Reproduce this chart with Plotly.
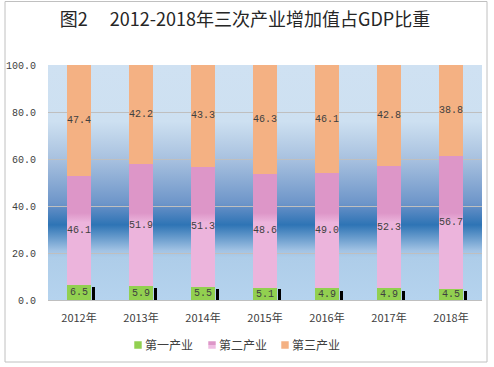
import base64
import plotly.graph_objects as go

# ---------------- data ----------------
years = ['2012年', '2013年', '2014年', '2015年', '2016年', '2017年', '2018年']
primary = [6.5, 5.9, 5.5, 5.1, 4.9, 4.9, 4.5]        # 第一产业
secondary = [46.1, 51.9, 51.3, 48.6, 49.0, 52.3, 56.7]  # 第二产业
tertiary = [47.4, 42.2, 43.3, 46.3, 46.1, 42.8, 38.8]   # 第三产业
stub = [5.5, 5.2, 4.7, 4.5, 3.8, 3.8, 3.8]             # small dark marks beside bars
y_ticks = [0, 20, 40, 60, 80, 100]
series_names = ['第一产业', '第二产业', '第三产业']

GREEN = '#92d050'
PINK = '#e2a3d2'
ORANGE = '#f4b183'
LABEL_FONT = dict(family='Liberation Mono, DejaVu Sans Mono, monospace', size=10, color='#404040')
LEGEND_FONT = dict(family='Noto Sans CJK SC', size=12, color='#404040')

# background gradient of the plot area (SVG data URI)
svg = '''<svg xmlns="http://www.w3.org/2000/svg" width="100" height="100" viewBox="0 0 100 100" preserveAspectRatio="none">
<defs><linearGradient id="g" x1="0" y1="0" x2="0" y2="1">
<stop offset="0" stop-color="#cfe1f2"/>
<stop offset="0.24" stop-color="#cde0f1"/>
<stop offset="0.40" stop-color="#a8c1df"/>
<stop offset="0.59" stop-color="#6d95c9"/>
<stop offset="0.61" stop-color="#5d8bc4"/>
<stop offset="0.68" stop-color="#2e74b5"/>
<stop offset="0.79" stop-color="#a2c3e4"/>
<stop offset="0.82" stop-color="#aecde9"/>
<stop offset="1" stop-color="#b5d3ee"/>
</linearGradient></defs>
<rect x="0" y="0" width="100" height="100" fill="url(#g)"/></svg>'''
svg_uri = 'data:image/svg+xml;base64,' + base64.b64encode(svg.encode()).decode()

fig = go.Figure()
legend_ids = ['legend', 'legend2', 'legend3']
for name, vals, col, lg in zip(series_names, [primary, secondary, tertiary], [GREEN, PINK, ORANGE], legend_ids):
    fig.add_trace(go.Bar(
        x=years, y=vals, name=name, width=0.4, legend=lg,
        marker=dict(color=col, line=dict(width=0)),
        text=[f'{v:.1f}' for v in vals], textposition='inside',
        insidetextanchor='middle', textangle=0, constraintext='none',
        textfont=LABEL_FONT, hoverinfo='skip',
    ))

fig.add_trace(go.Bar(
    x=years, y=stub, xaxis='x2', yaxis='y', width=0.05, offset=0.215,
    marker=dict(color='#000000', line=dict(width=0)), showlegend=False, hoverinfo='skip',
))

legend_lefts_px = [105, 179, 252]
legend_cfg = {}
for lg, px in zip(legend_ids, legend_lefts_px):
    legend_cfg[lg] = dict(orientation='h', x=(px - 48) / 434, xanchor='left', y=-0.1915, yanchor='middle',
                          font=LEGEND_FONT, itemwidth=30, bgcolor='rgba(0,0,0,0)')

fig.update_layout(
    width=494, height=367,
    margin=dict(l=48, r=12, t=65, b=67, autoexpand=False),
    paper_bgcolor='white', plot_bgcolor='rgba(0,0,0,0)',
    barmode='stack',
    title=dict(text='图2\u3000 2012-2018年三次产业增加值占GDP比重',
               x=245 / 494, xanchor='center', yref='container', y=1 - 20 / 367, yanchor='middle',
               font=dict(family='Noto Sans CJK SC', size=18, color='#262626')),
    xaxis=dict(type='category', range=[-0.5, 6.5], showgrid=False, showline=True,
               linecolor='#bfbfbf', linewidth=1, ticks='', ticklabelstandoff=8,
               tickfont=dict(family='Noto Sans CJK SC', size=11, color='#404040'), zeroline=False),
    xaxis2=dict(type='category', range=[-0.5, 6.5], overlaying='x', visible=False,
                categoryarray=years, categoryorder='array'),
    yaxis=dict(range=[0, 100], tickvals=y_ticks, tickformat='.1f', showgrid=True,
               gridcolor='#bfbfbf', gridwidth=1, zeroline=False, showline=False, ticks='',
               ticklabelstandoff=11,
               tickfont=dict(family='Liberation Mono, DejaVu Sans Mono, monospace', size=10, color='#404040')),
    images=[dict(source=svg_uri, xref='paper', yref='paper', x=0, y=1, sizex=1, sizey=1,
                 sizing='stretch', xanchor='left', yanchor='top', layer='below')],
    shapes=[dict(type='rect', xref='paper', yref='paper',
                 x0=(5 - 48) / 434, x1=(487 - 48) / 434,
                 y0=(300 - 362) / 235, y1=(300 - 1.5) / 235,
                 line=dict(color='#c0c0c0', width=1), fillcolor='rgba(0,0,0,0)', layer='above')],
    **legend_cfg,
)

post = r'''
document.body.style.margin = '0';
var gd = document.getElementById('{plot_id}');
var ya = gd._fullLayout.yaxis;
var svgEl = gd.querySelector('svg.main-svg');
var ns = 'http://www.w3.org/2000/svg';
var defs = svgEl.querySelector('defs');
function mk(id, user, y1, y2, stops){
  var lg = document.createElementNS(ns, 'linearGradient');
  lg.setAttribute('id', id);
  lg.setAttribute('x1', 0); lg.setAttribute('x2', 0);
  lg.setAttribute('y1', y1); lg.setAttribute('y2', y2);
  if(user){ lg.setAttribute('gradientUnits', 'userSpaceOnUse'); }
  stops.forEach(function(s){
    var st = document.createElementNS(ns, 'stop');
    st.setAttribute('offset', s[0]); st.setAttribute('stop-color', s[1]);
    lg.appendChild(st);
  });
  defs.appendChild(lg);
}
mk('pinkbar', true, ya.l2p(37), ya.l2p(33), [[0, '#dd96c8'], [1, '#ecb4dc']]);
mk('pinkleg', false, 0, 1, [[0, '#dd96c8'], [0.5, '#dd96c8'], [0.5, '#efbde2'], [1, '#efbde2']]);
var tr = gd.querySelectorAll('.subplot.xy .barlayer .trace');
if(tr.length > 1){
  tr[1].querySelectorAll('path').forEach(function(p){ p.style.fill = 'url(#pinkbar)'; });
}
gd.querySelectorAll('.legendpoints path').forEach(function(p){
  p.setAttribute('transform', 'translate(33,0) scale(0.62)');
  var f = p.style.fill || '';
  if(f.indexOf('226, 163, 210') >= 0 || f.toLowerCase().indexOf('e2a3d2') >= 0){ p.style.fill = 'url(#pinkleg)'; }
});
'''

fig.write_html('out.html', post_script=post, config={'displayModeBar': False})
